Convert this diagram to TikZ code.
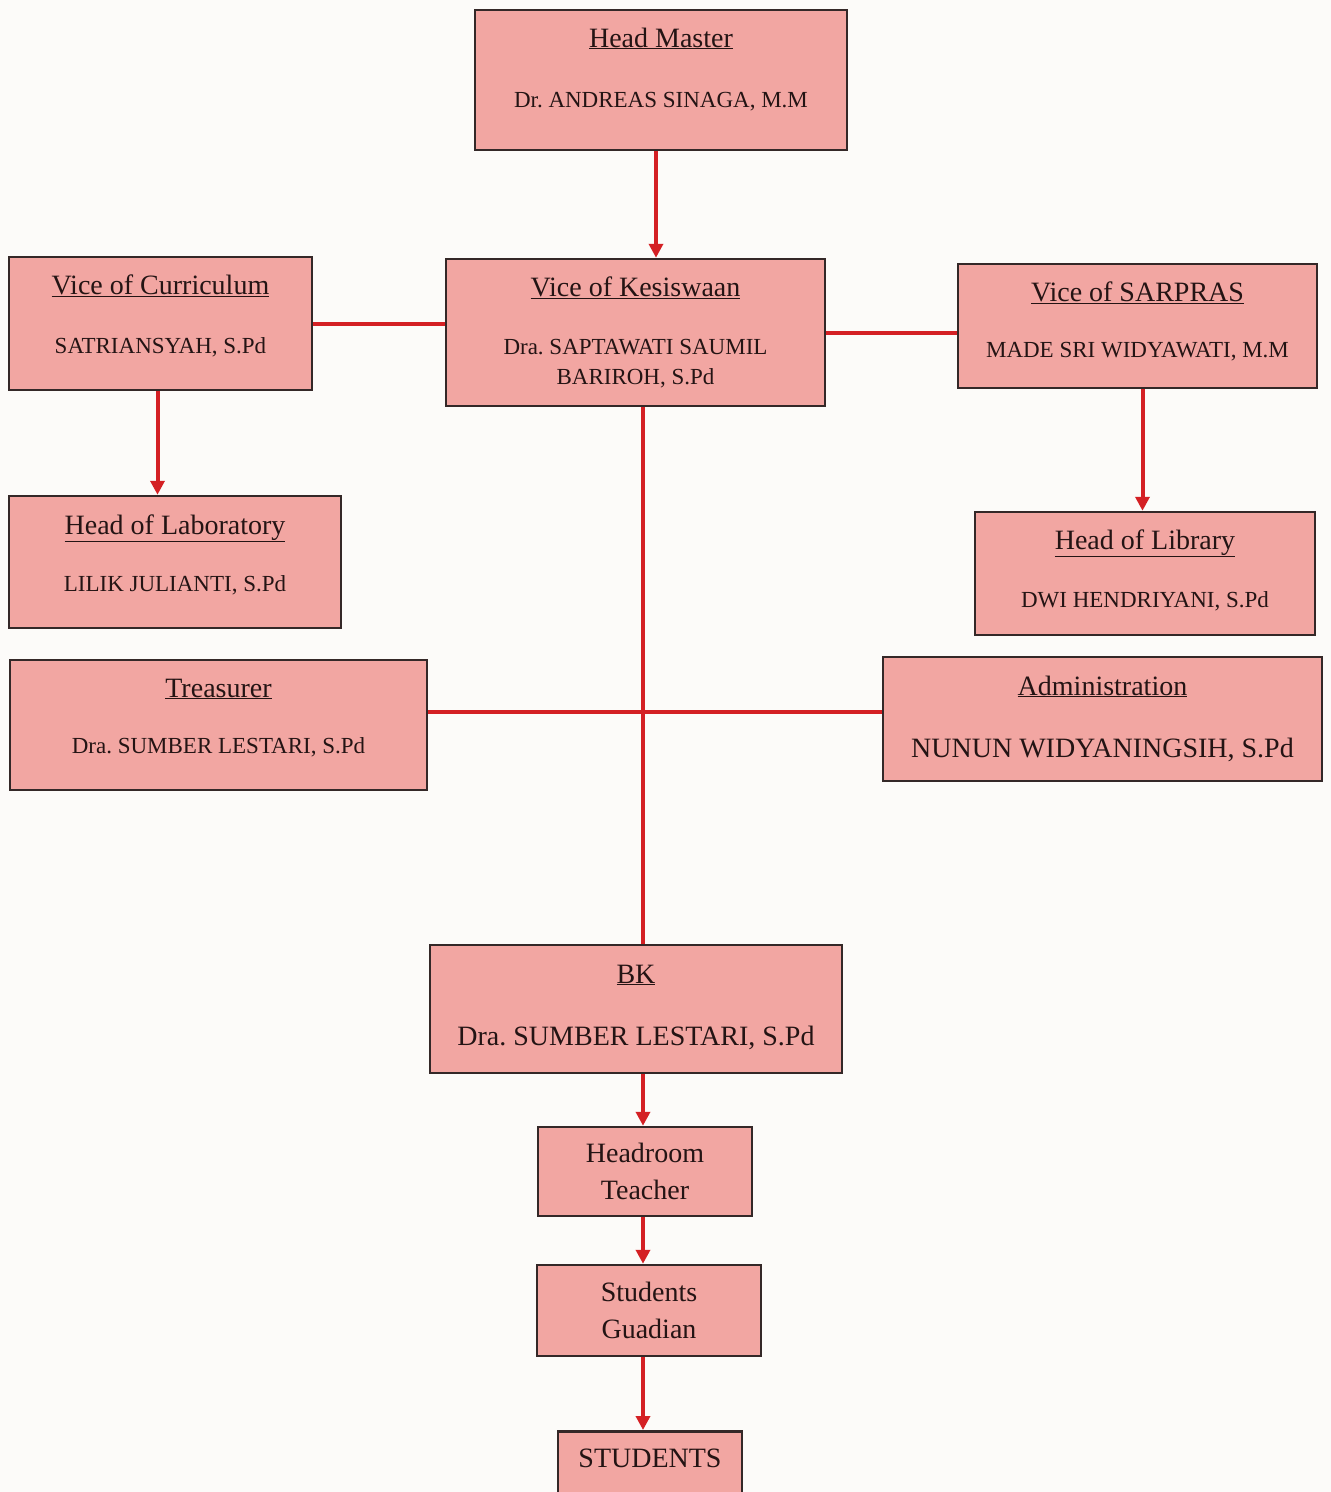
\documentclass[tikz,border=0pt]{standalone}
\usepackage{fontspec}
\setmainfont{Liberation Serif}
\usetikzlibrary{arrows.meta}
\definecolor{boxpink}{RGB}{242,166,162}
\definecolor{boxline}{RGB}{52,40,40}
\definecolor{linkred}{RGB}{212,32,36}
\definecolor{ink}{RGB}{36,20,20}
\definecolor{paper}{RGB}{252,251,249}
\frenchspacing

\begin{document}
\begin{tikzpicture}[x=1pt, y=-1pt,
  box/.style = {draw=boxline, line width=2.5pt, fill=boxpink, inner sep=0pt},
  cell/.style = {box, align=center, text=ink, font=\fontsize{28}{37}\selectfont},
  ttl/.style = {anchor=base, inner sep=0pt, text=ink, font=\fontsize{28}{30}\selectfont},
  nm/.style = {anchor=base, inner sep=0pt, text=ink, font=\fontsize{23}{30}\selectfont},
  big/.style = {nm, font=\fontsize{28}{37}\selectfont},
  link/.style = {draw=linkred, line width=4pt},
  arr/.style = {link, -{Triangle[length=14pt, width=14pt]}}]

\path[use as bounding box, fill=paper] (0,0) rectangle (1331,1492);
\clip (0,0) rectangle (1331,1492);

% boxes
\node[box, minimum width=372pt, minimum height=140pt] (hm) at (661,80) {};
\node[ttl] (hmT) at (661,47) {\underline{Head Master}};
\node[nm]  (hmN) at (661,107.5) {Dr. ANDREAS SINAGA, M.M};

\node[box, minimum width=379pt, minimum height=147pt] (kes) at (635.5,332.5) {};
\node[ttl] (kesT) at (635.5,296) {\underline{Vice of Kesiswaan}};
\node[nm, anchor=center, align=center] (kesN) at (635.5,364) {Dra. SAPTAWATI SAUMIL\\BARIROH, S.Pd};

\node[box, minimum width=303pt, minimum height=133pt] (cur) at (160.5,323.5) {};
\node[ttl] (curT) at (160.5,294) {\underline{Vice of Curriculum}};
\node[nm]  (curN) at (160.5,353.5) {SATRIANSYAH, S.Pd};

\node[box, minimum width=359pt, minimum height=124pt] (sar) at (1137.5,326) {};
\node[ttl] (sarT) at (1137.5,301) {\underline{Vice of SARPRAS}};
\node[nm]  (sarN) at (1137.5,357.5) {MADE SRI WIDYAWATI, M.M};

\node[box, minimum width=332pt, minimum height=132pt] (lab) at (175,562) {};
\node[ttl] (labT) at (175,534) {\underline{Head of Laboratory}};
\node[nm]  (labN) at (175,591.5) {LILIK JULIANTI, S.Pd};

\node[box, minimum width=340pt, minimum height=123pt] (lib) at (1145,573.5) {};
\node[ttl] (libT) at (1145,549) {\underline{Head of Library}};
\node[nm]  (libN) at (1145,607.5) {DWI HENDRIYANI, S.Pd};

\node[box, minimum width=417pt, minimum height=130pt] (tre) at (218.5,725) {};
\node[ttl] (treT) at (218.5,697) {\underline{Treasurer}};
\node[nm]  (treN) at (218.5,753.5) {Dra. SUMBER LESTARI, S.Pd};

\node[box, minimum width=439pt, minimum height=124pt] (adm) at (1102.5,719) {};
\node[ttl] (admT) at (1102.5,695) {\underline{Administration}};
\node[big] (admN) at (1102.5,757) {NUNUN WIDYANINGSIH, S.Pd};

\node[box, minimum width=412pt, minimum height=128pt] (bk) at (636,1009) {};
\node[ttl] (bkT) at (636,983) {\underline{BK}};
\node[big] (bkN) at (636,1045) {Dra. SUMBER LESTARI, S.Pd};

\node[cell, minimum width=214pt, minimum height=89pt] (hrt) at (645,1171.5) {Headroom\\Teacher};
\node[cell, minimum width=224pt, minimum height=91pt] (gdn) at (649,1310.5) {Students\\Guadian};
\node[box, minimum width=184pt, minimum height=90pt, anchor=north] (stu) at (650,1430) {};
\node[ttl] (stuT) at (650,1467) {STUDENTS};

% connectors
\coordinate (mid) at (643,712);
\draw[arr]  ([xshift=-5pt]hm.south) -- ([xshift=-5pt]hm.south |- kes.north);
\draw[link] (cur.east) -- (cur.east -| kes.west);
\draw[link] (kes.east) -- (kes.east -| sar.west);
\draw[arr]  ([xshift=-3pt]cur.south) -- ([xshift=-3pt]cur.south |- lab.north);
\draw[arr]  ([xshift=5pt]sar.south) -- ([xshift=5pt]sar.south |- lib.north);
\draw[link] (mid |- kes.south) -- (mid |- bk.north);
\draw[link] (mid -| tre.east) -- (mid -| adm.west);
\draw[arr]  (mid |- bk.south) -- (mid |- hrt.north);
\draw[arr]  (mid |- hrt.south) -- (mid |- gdn.north);
\draw[arr]  (mid |- gdn.south) -- (mid |- stu.north);

\end{tikzpicture}
\end{document}
